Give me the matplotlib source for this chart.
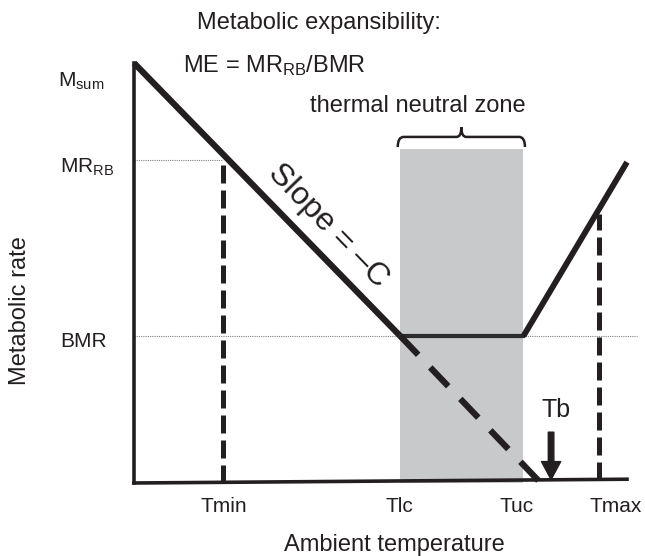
import matplotlib
matplotlib.use('Agg')
import matplotlib.pyplot as plt
from matplotlib.path import Path
from matplotlib.patches import PathPatch, FancyArrowPatch

plt.rcParams['font.family'] = ['Liberation Sans', 'DejaVu Sans']
plt.rcParams['mathtext.fontset'] = 'custom'
plt.rcParams['mathtext.rm'] = 'Liberation Sans'
plt.rcParams['mathtext.it'] = 'Liberation Sans:italic'

# conceptual units: ambient temperature 0-100, metabolic rate 0-100
T_min, T_lc, T_uc, T_max, T_b = 18, 54, 79, 94.3, 84.6
M_sum, MR_RB, BMR = 100, 77, 35

cold_x = [0, T_lc]
cold_y = [M_sum, BMR]
tnz_x = [T_lc, T_uc]
tnz_y = [BMR, BMR]
heat_x = [T_uc, 100]
heat_y = [BMR, 76.4]
ext_x = [T_lc, 82.5]
ext_y = [BMR, 0]
tmax_top = 64
tnz_top = 79.5
base_x = [0, 100]
base_y = [0, 0.9]

t_labels = ['Tmin', 'Tlc', 'Tuc', 'Tmax']
t_label_x = [18.3, 53.8, 77.7, 97.8]

ink = '#231f20'

fig = plt.figure(figsize=(6.45, 5.56), dpi=100)
ax = fig.add_axes([134 / 645, 73 / 556, 493 / 645, 420 / 556])
ax.set_xlim(0, 100)
ax.set_ylim(0, 100)
ax.axis('off')

# thermal neutral zone band
ax.fill_between(tnz_x, 0, tnz_top, color='#c8c9cb', lw=0, zorder=1)

# reference dotted lines
ax.plot([0, T_min], [MR_RB, MR_RB], color='#808080', lw=0.8, ls=(0, (1, 1)), clip_on=False, zorder=2)
ax.plot([0, 102], [BMR, BMR], color='#808080', lw=0.8, ls=(0, (1, 1)), clip_on=False, zorder=2)

# axes
ax.plot([0, 0], [0, M_sum], color=ink, lw=2.6, clip_on=False, zorder=3)
ax.plot(base_x, base_y, color=ink, lw=2.6, clip_on=False, zorder=3)

# metabolic rate curve
ax.plot(cold_x, cold_y, color=ink, lw=4.5, clip_on=False, zorder=4, solid_capstyle='butt')
ax.plot(tnz_x, tnz_y, color='#2b2b2b', lw=3, clip_on=False, zorder=4)
ax.plot(heat_x, heat_y, color=ink, lw=4.2, clip_on=False, zorder=4, solid_capstyle='butt')
ax.plot(ext_x, ext_y, color=ink, lw=4.5, ls=(0, (4.16, 2.8)), clip_on=False, zorder=4)

# Tmin / Tmax limits
ax.plot([T_min, T_min], [0, MR_RB], color=ink, lw=3.6, ls=(0, (3.6, 1.4)), zorder=4)
ax.plot([T_max, T_max], [0.8, tmax_top], color=ink, lw=3.6, ls=(0, (3.6, 1.4)), zorder=4)

# brace over the thermal neutral zone
xl, xr = T_lc - 0.5, T_uc + 0.3
xm = (xl + xr) / 2
yb, yh, yt = 80, 82.4, 84.7
verts = [(xl, yb), (xl, yh), (xl + 1.2, yh),
         (xm - 1.0, yh), (xm, yh), (xm, yt),
         (xm, yh), (xm + 1.0, yh),
         (xr - 1.2, yh), (xr, yh), (xr, yb)]
codes = [Path.MOVETO, Path.CURVE3, Path.CURVE3,
         Path.LINETO, Path.CURVE3, Path.CURVE3,
         Path.CURVE3, Path.CURVE3,
         Path.LINETO, Path.CURVE3, Path.CURVE3]
ax.add_patch(PathPatch(Path(verts, codes), fill=False, ec=ink, lw=1.8, clip_on=False))

# Tb arrow
arr = FancyArrowPatch((T_b, 12.1), (T_b, 0.8), arrowstyle='simple,head_length=0.65,head_width=0.69,tail_width=0.2',
                      mutation_scale=20, color=ink, shrinkA=0, shrinkB=0, zorder=5)
ax.add_patch(arr)
ax.text(85.6, 17.4, 'Tb', fontsize=18, ha='center', va='center', color=ink)

# texts
ax.text(37.5, 109.5, 'Metabolic expansibility:', fontsize=17, ha='center', va='center', color=ink)
ax.text(9.9, 99.5, r'ME = MR$_{\mathrm{RB}}$/BMR', fontsize=17, ha='left', va='center', color=ink)
ax.text(57.6, 89.8, 'thermal neutral zone', fontsize=17, ha='center', va='center', color=ink)
ax.text(39.4, 61.2, 'Slope = \u2013C', fontsize=23, ha='center', va='center', rotation=-46,
        rotation_mode='anchor', color=ink)

ax.text(-15.4, 94.3, r'M$_{\mathrm{sum}}$', fontsize=15, ha='left', va='baseline', color=ink)
ax.text(-15.0, 73.8, r'MR$_{\mathrm{RB}}$', fontsize=15, ha='left', va='baseline', color=ink)
ax.text(-15.0, 33.6, 'BMR', fontsize=15, ha='left', va='center', color=ink)

for lab, lx in zip(t_labels, t_label_x):
    ax.text(lx, -5.5, lab, fontsize=15, ha='center', va='center', color=ink)

ax.text(-23.1, 41, 'Metabolic rate', fontsize=17, ha='center', va='center', rotation=90, color=ink)
ax.text(52.9, -14.8, 'Ambient temperature', fontsize=17, ha='center', va='center', color=ink)

fig.savefig('out.png', dpi=100)
